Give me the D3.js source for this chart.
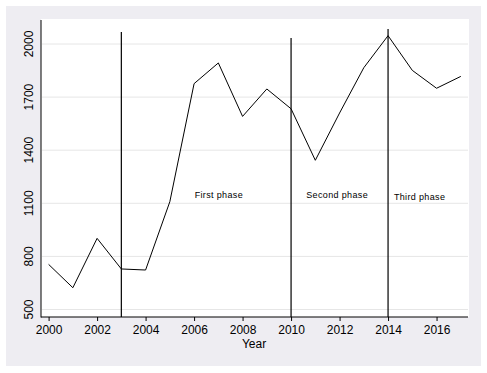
<!DOCTYPE html>
<html><head><meta charset="utf-8">
<script src="https://cdn.jsdelivr.net/npm/d3@7"></script>
<style>
html,body{margin:0;padding:0;background:#fff;}
svg{display:block;font-family:"Liberation Sans",Arial,sans-serif;}
</style></head>
<body>
<svg id="c" width="487" height="373"></svg>
<script>
const years = [2000,2001,2002,2003,2004,2005,2006,2007,2008,2009,2010,2011,2012,2013,2014,2015,2016,2017];
const values = [755,623,902,729,723,1109,1776,1893,1591,1746,1634,1343,1610,1866,2047,1851,1750,1817];
const xTicks = [2000,2002,2004,2006,2008,2010,2012,2014,2016];
const yTicks = [500,800,1100,1400,1700,2000];
const phaseYears = [2003,2010,2014];
const phaseTops = [2068,2034,2085];
const phaseLabels = ["First phase","Second phase","Third phase"];
const phaseLabelX = [2007.02,2011.9,2015.3];
const phaseLabelY = [1129,1129,1119];

const svg = d3.select("#c");
svg.append("rect").attr("x",6).attr("y",6).attr("width",475).attr("height",360).attr("fill","#eeedf2");
svg.append("rect").attr("x",41).attr("y",19).attr("width",428).attr("height",298).attr("fill","#fff");

const x = d3.scaleLinear().domain([2000,2017]).range([48.6,460.8]);
const y = d3.scaleLinear().domain([500,2000]).range([309.5,44]);

// gridlines
svg.append("g").selectAll("line").data(yTicks).join("line")
  .attr("x1",42).attr("x2",468).attr("y1",d=>y(d)).attr("y2",d=>y(d))
  .attr("stroke","#e6e6e6").attr("stroke-width",1);

// y axis
const ya = svg.append("g").attr("transform","translate(41,0)")
  .call(d3.axisLeft(y).tickValues(yTicks).tickSize(0).tickPadding(0).tickFormat(d3.format("d")));
ya.select(".domain").remove();
ya.selectAll(".tick").attr("transform",null);
ya.selectAll("text").attr("font-size",12).attr("fill","#000").attr("font-family","Liberation Sans, Arial, sans-serif")
  .attr("transform",d=>`translate(-8,${y(d)}) rotate(-90)`).attr("x",0).attr("y",0)
  .attr("dy","0").attr("text-anchor","middle");
svg.append("line").attr("x1",41).attr("x2",41).attr("y1",20).attr("y2",317.5).attr("stroke","#000");

// x axis
const xa = svg.append("g").attr("transform","translate(0,317)")
  .call(d3.axisBottom(x).tickValues(xTicks).tickSize(4).tickPadding(4).tickFormat(d3.format("d")));
xa.select(".domain").remove();
xa.selectAll("line").attr("stroke","#000");
xa.selectAll("text").attr("font-size",12).attr("fill","#000").attr("font-family","Liberation Sans, Arial, sans-serif");
svg.append("line").attr("x1",41).attr("x2",468).attr("y1",317).attr("y2",317).attr("stroke","#000");

svg.append("text").attr("x",254).attr("y",348).attr("text-anchor","middle")
  .attr("font-size",12).text("Year");

// phase lines
svg.append("g").selectAll("line").data(phaseYears).join("line")
  .attr("x1",d=>x(d)).attr("x2",d=>x(d))
  .attr("y1",(d,i)=>y(phaseTops[i])).attr("y2",317)
  .attr("stroke","#000").attr("stroke-width",1.2);

// data line
svg.append("path").datum(years.map((d,i)=>[d,values[i]]))
  .attr("d",d3.line().x(d=>x(d[0])).y(d=>y(d[1])))
  .attr("fill","none").attr("stroke","#000").attr("stroke-width",1);

// phase labels
svg.append("g").selectAll("text").data(phaseLabels).join("text")
  .attr("x",(d,i)=>x(phaseLabelX[i])).attr("y",(d,i)=>y(phaseLabelY[i]))
  .attr("text-anchor","middle").attr("font-size",9).attr("letter-spacing",0.35)
  .attr("fill","#000").text(d=>d);
</script>
</body></html>
